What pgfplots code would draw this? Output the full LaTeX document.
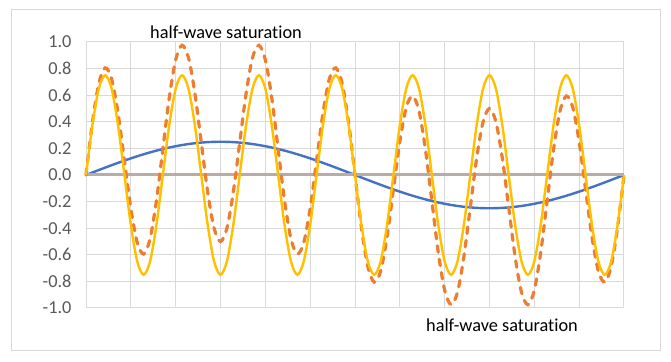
\documentclass[border=0pt]{standalone}
\usepackage{pgfplots}
\pgfplotsset{compat=1.18}
\usepackage{pgfplotstable}
\usepackage{fontspec}
\setmainfont[Ligatures=NoCommon]{Carlito}
\definecolor{xblue}{HTML}{4472C4}
\definecolor{xorange}{HTML}{ED7D31}
\definecolor{xyellow}{HTML}{FFC000}
\definecolor{xtan}{HTML}{B8ADA6}
\definecolor{xgrid}{HTML}{D9D9D9}
\definecolor{xlab}{HTML}{595959}
\pgfplotstableread{
i b y o
0 0 0 0
1 0.0187 0.375 0.3937
2 0.0373 0.6495 0.6868
3 0.0556 0.75 0.8056
4 0.0737 0.6495 0.7232
5 0.0913 0.375 0.4663
6 0.1085 0 0.1085
7 0.125 -0.375 -0.25
8 0.1408 -0.6495 -0.5087
9 0.1559 -0.75 -0.5941
10 0.1700 -0.6495 -0.4795
11 0.1833 -0.375 -0.1917
12 0.1955 0 0.1955
13 0.2066 0.375 0.5816
14 0.2165 0.6495 0.8660
15 0.2252 0.75 0.9752
16 0.2327 0.6495 0.8822
17 0.2389 0.375 0.6139
18 0.2437 0 0.2437
19 0.2472 -0.375 -0.1278
20 0.2493 -0.6495 -0.4002
21 0.25 -0.75 -0.5
22 0.2493 -0.6495 -0.4002
23 0.2472 -0.375 -0.1278
24 0.2437 0 0.2437
25 0.2389 0.375 0.6139
26 0.2327 0.6495 0.8822
27 0.2252 0.75 0.9752
28 0.2165 0.6495 0.8660
29 0.2066 0.375 0.5816
30 0.1955 0 0.1955
31 0.1833 -0.375 -0.1917
32 0.1700 -0.6495 -0.4795
33 0.1559 -0.75 -0.5941
34 0.1408 -0.6495 -0.5087
35 0.125 -0.375 -0.25
36 0.1085 0 0.1085
37 0.0913 0.375 0.4663
38 0.0737 0.6495 0.7232
39 0.0556 0.75 0.8056
40 0.0373 0.6495 0.6868
41 0.0187 0.375 0.3937
42 0 0 0
43 -0.0187 -0.375 -0.3937
44 -0.0373 -0.6495 -0.6868
45 -0.0556 -0.75 -0.8056
46 -0.0737 -0.6495 -0.7232
47 -0.0913 -0.375 -0.4663
48 -0.1085 0 -0.1085
49 -0.125 0.375 0.25
50 -0.1408 0.6495 0.5087
51 -0.1559 0.75 0.5941
52 -0.1700 0.6495 0.4795
53 -0.1833 0.375 0.1917
54 -0.1955 0 -0.1955
55 -0.2066 -0.375 -0.5816
56 -0.2165 -0.6495 -0.8660
57 -0.2252 -0.75 -0.9752
58 -0.2327 -0.6495 -0.8822
59 -0.2389 -0.375 -0.6139
60 -0.2437 0 -0.2437
61 -0.2472 0.375 0.1278
62 -0.2493 0.6495 0.4002
63 -0.25 0.75 0.5
64 -0.2493 0.6495 0.4002
65 -0.2472 0.375 0.1278
66 -0.2437 0 -0.2437
67 -0.2389 -0.375 -0.6139
68 -0.2327 -0.6495 -0.8822
69 -0.2252 -0.75 -0.9752
70 -0.2165 -0.6495 -0.8660
71 -0.2066 -0.375 -0.5816
72 -0.1955 0 -0.1955
73 -0.1833 0.375 0.1917
74 -0.1700 0.6495 0.4795
75 -0.1559 0.75 0.5941
76 -0.1408 0.6495 0.5087
77 -0.125 0.375 0.25
78 -0.1085 0 -0.1085
79 -0.0913 -0.375 -0.4663
80 -0.0737 -0.6495 -0.7232
81 -0.0556 -0.75 -0.8056
82 -0.0373 -0.6495 -0.6868
83 -0.0187 -0.375 -0.3937
84 0 0 0
}\data
\begin{document}
\begin{tikzpicture}
\fill[white] (0,0) rectangle (671bp,362bp);
\draw[xgrid, line width=1bp] (11bp,11bp) rectangle (660bp,352bp);
\begin{axis}[
  at={(86bp,54bp)}, anchor=south west,
  scale only axis, width=538bp, height=266bp,
  xmin=0, xmax=84, ymin=-1, ymax=1,
  xtick={0,7,...,84}, xticklabels={},
  ytick={-1,-0.8,-0.6,-0.4,-0.2,0,0.2,0.4,0.6,0.8,1},
  yticklabels={-1.0,-0.8,-0.6,-0.4,-0.2,0.0,0.2,0.4,0.6,0.8,1.0},
  xmajorgrids, ymajorgrids,
  grid style={xgrid, line width=1bp},
  axis line style={xgrid, line width=1bp},
  major tick length=0pt,
  tick style={draw=none},
  yticklabel style={font=\fontsize{18.3bp}{21bp}\selectfont, text=xlab, anchor=east, xshift=-11bp},
  clip=false,
]
\addplot[xblue, line width=2.4bp, smooth] table[x=i, y=b] {\data};
\addplot[xtan, line width=3bp] coordinates {(0,0) (84,0)};
\addplot[xorange, line width=3.2bp, smooth, line cap=round, dash pattern=on 6.5bp off 7bp] table[x=i, y=o] {\data};
\addplot[xyellow, line width=2.4bp, smooth] table[x=i, y=y] {\data};
\node[font=\fontsize{18.3bp}{21bp}\selectfont, text=black] at (axis cs:21.86,1.075) {half-wave saturation};
\node[font=\fontsize{18.3bp}{21bp}\selectfont, text=black] at (axis cs:64.95,-1.128) {half-wave saturation};
\end{axis}
\end{tikzpicture}
\end{document}
